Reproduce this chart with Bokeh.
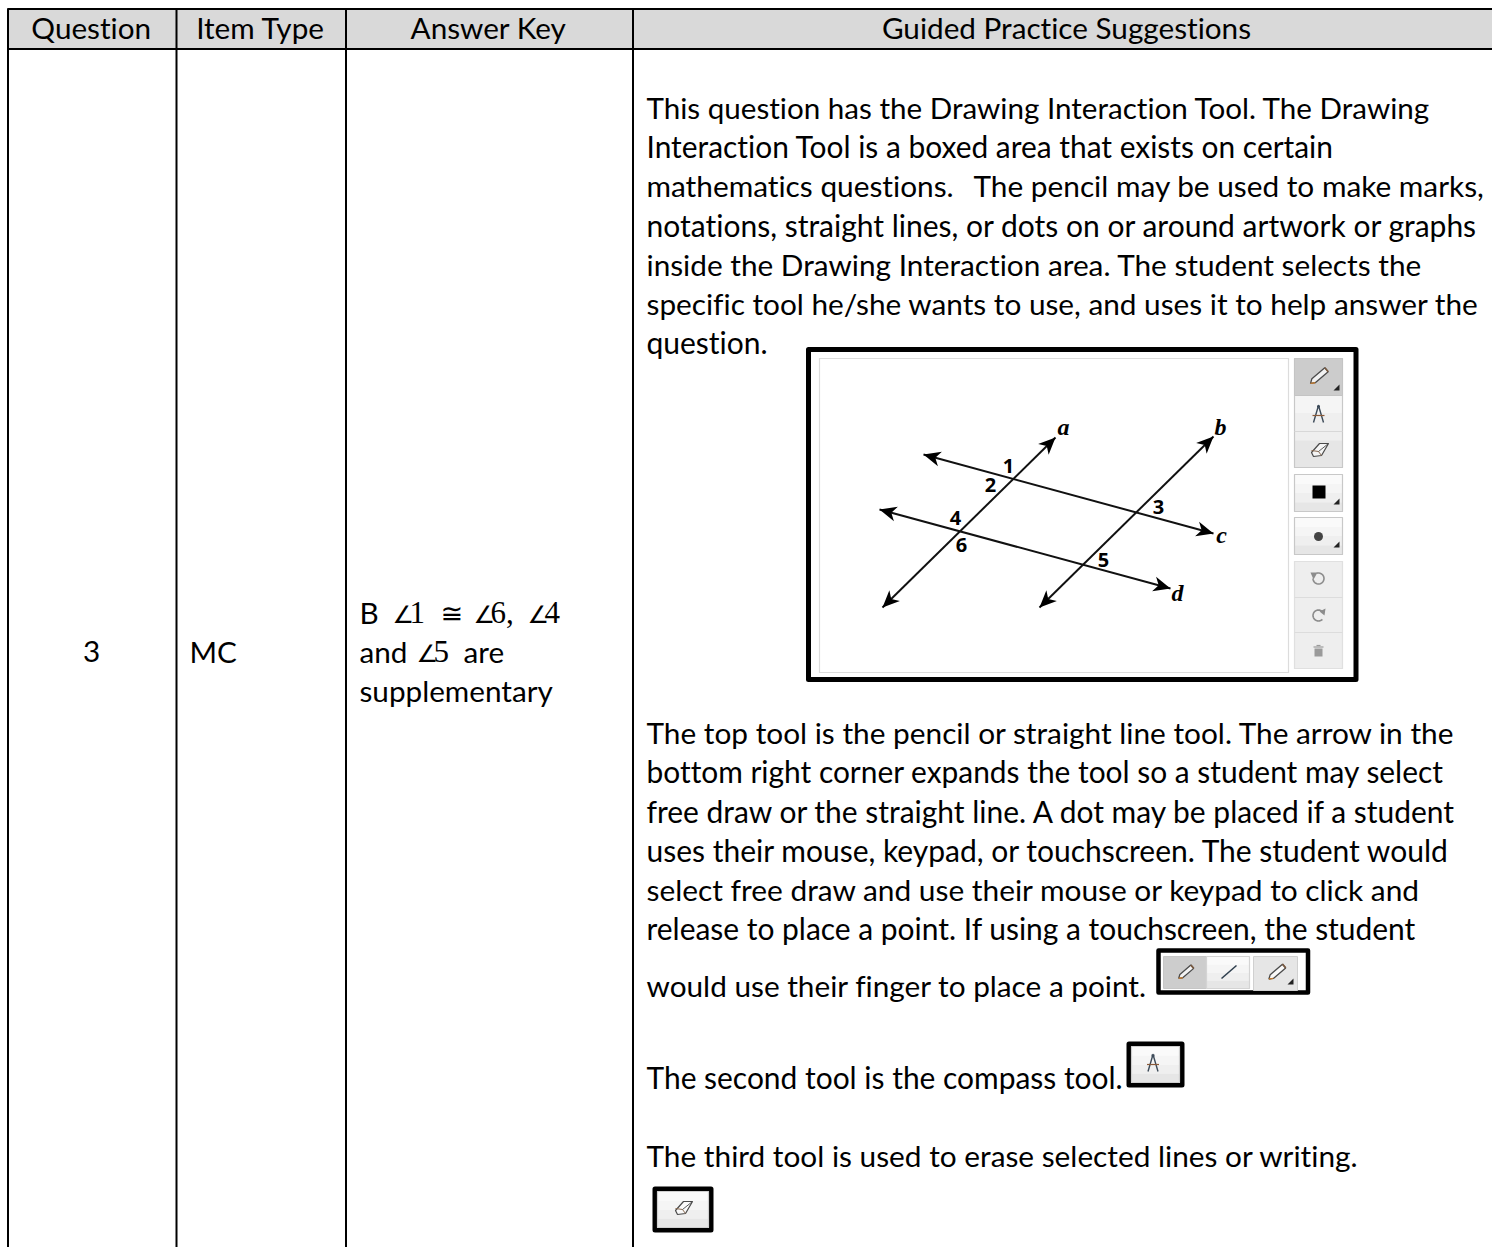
from bokeh.plotting import figure
from bokeh.models import Range1d
from bokeh.core.properties import value
from bokeh.embed import file_html
from bokeh.resources import INLINE
import math

# ---- content -------------------------------------------------------------
HEADERS = ["Question", "Item Type", "Answer Key", "Guided Practice Suggestions"]
QUESTION = "3"
ITEM_TYPE = "MC"
ANSWER_SEGMENTS = [
    ["B", "∠1", "≅", "∠6,", "∠4"],
    ["and", "∠5", "are"],
    ["supplementary"],
]
PARAGRAPH_1 = [
    "This question has the Drawing Interaction Tool. The Drawing",
    "Interaction Tool is a boxed area that exists on certain",
    "mathematics questions.  The pencil may be used to make marks,",
    "notations, straight lines, or dots on or around artwork or graphs",
    "inside the Drawing Interaction area. The student selects the",
    "specific tool he/she wants to use, and uses it to help answer the",
    "question.",
]
PARAGRAPH_2 = [
    "The top tool is the pencil or straight line tool. The arrow in the",
    "bottom right corner expands the tool so a student may select",
    "free draw or the straight line. A dot may be placed if a student",
    "uses their mouse, keypad, or touchscreen. The student would",
    "select free draw and use their mouse or keypad to click and",
    "release to place a point. If using a touchscreen, the student",
    "would use their finger to place a point.",
]
LINE_SECOND = "The second tool is the compass tool."
LINE_THIRD = "The third tool is used to erase selected lines or writing."
ANGLE_LABELS = ["1", "2", "3", "4", "5", "6"]
LINE_LABELS = ["a", "b", "c", "d"]

# ---- layout --------------------------------------------------------------
W, H = 1492, 1247
FONT = "Lato"
FS = 29.7
GRID = "#000000"
p = figure(width=W, height=H, x_range=Range1d(0, W), y_range=Range1d(H, 0),
           output_backend="svg", toolbar_location=None, min_border=0,
           x_axis_location=None, y_axis_location=None, margin=0)
p.grid.visible = False
p.outline_line_color = None
p.background_fill_color = "#ffffff"


def txt(x, y, s, font=FONT, size=FS, align="left", style="normal", color="#000000"):
    p.text([x], [y - 0.37 * size], text=[s], text_font=value(font), text_font_size=f"{size}px",
           text_align=align, text_baseline="alphabetic", text_font_style=style,
           text_color=color)


def box(l, r, t, b, fill="#ffffff", line=None, lw=1, join="miter"):
    p.quad(left=[l], right=[r], top=[t], bottom=[b], fill_color=fill,
           line_color=line, line_width=lw, line_join=join)


def seg(xs, ys, color="#000000", lw=1.0, cap="butt"):
    p.line(xs, ys, line_color=color, line_width=lw, line_cap=cap, line_join="round")


def poly(xs, ys, color, line=None, lw=1.0):
    p.patch(xs, ys, fill_color=color, line_color=line, line_width=lw)


# ---- table ---------------------------------------------------------------
box(8, W, 9, 48, fill="#d9d9d9")
for y in (8.5, 48.5):
    seg([7, W], [y, y], GRID, 2)
for x in (7.5, 176, 345.5, 632.5):
    seg([x, x], [8, H], GRID, 2)

for cx, s in zip((91, 260, 488, 1066.5), HEADERS):
    txt(cx, 38, s, align="center")

txt(91, 662, QUESTION, align="center")
txt(189, 662, ITEM_TYPE)

serif = "Liberation Serif"
math_x = [[359, 392, 440, 473, 527], [359, 416, 463], [359]]
math_y = [623, 662, 701]
for row, xs, y in zip(ANSWER_SEGMENTS, math_x, math_y):
    for s, x in zip(row, xs):
        if s[0] in "∠≅":
            if s[0] == "≅":
                txt(x, y, s, font="DejaVu Sans", size=27)
            else:
                txt(x, y, s[0], font="DejaVu Sans", size=24)
                txt(x + 17, y, s[1:], font=serif, size=31)
        else:
            txt(x, y, s)

# each line is fitted to the width it has in the reference
p1_y = (118, 157, 196.5, 235.5, 275, 314, 353)
p1_size = (29.6, 29.9, 29.8, 30.0, 29.75, 29.75, 30.0)
for s, y, fs in zip(PARAGRAPH_1, p1_y, p1_size):
    if "  " in s:
        head, tail = s.split("  ")
        txt(646, y, head, size=fs)
        txt(973, y, tail, size=fs)
    else:
        txt(646, y, s, size=fs)
p2_y = (743, 782, 821.5, 861, 900, 939, 996)
p2_size = (29.8, 29.9, 29.96, 30.0, 29.85, 29.95, 29.75)
for s, y, fs in zip(PARAGRAPH_2, p2_y, p2_size):
    txt(646, y, s, size=fs)
txt(646, 1088, LINE_SECOND, size=29.95)
txt(646, 1166, LINE_THIRD, size=29.8)


# ---- icons ---------------------------------------------------------------
def pencil(x, y, k=1.0, outline="#4a4a4a"):
    ux, uy, nx, ny = 0.76, -0.65, 0.65, 0.76
    L, w = 10.5 * k, 2.6 * k
    tipx, tipy = x - L * ux, y - L * uy
    a = (x - (L - 4 * k) * ux + w * nx, y - (L - 4 * k) * uy + w * ny)
    b = (x - (L - 4 * k) * ux - w * nx, y - (L - 4 * k) * uy - w * ny)
    c = (x + L * ux - w * nx, y + L * uy - w * ny)
    d = (x + L * ux + w * nx, y + L * uy + w * ny)
    xs = [tipx, b[0], c[0], d[0], a[0], tipx]
    ys = [tipy, b[1], c[1], d[1], a[1], tipy]
    p.patch(xs, ys, fill_color="#ffffff", fill_alpha=0.75, line_color=outline, line_width=1.3)
    seg([tipx, a[0]], [tipy, a[1]], "#c07a30", 1.4)
    seg([c[0], d[0]], [c[1], d[1]], "#7a5a40", 1.6)


def corner(x, y):
    poly([x + 4, x + 4, x - 2], [y - 4, y + 2, y + 2], "#222222")


def compass(x, y):
    seg([x - 5, x, x + 5], [y + 9, y - 8, y + 9], "#3c4a58", 1.4)
    seg([x - 6, x + 6], [y + 2, y + 2], "#8a5a3a", 1.2)
    seg([x - 1.5, x + 1.5], [y - 7, y - 7], "#3c4a58", 2)


def eraser(x, y):
    xs = [x - 7, x + 1, x + 10, x + 3, x - 5, x - 7]
    ys = [y + 3, y - 6, y - 6, y + 6, y + 7, y + 3]
    p.patch(xs, ys, fill_color="#ffffff", fill_alpha=0.6, line_color="#4a4a4a", line_width=1.2)
    seg([x - 7, x, x + 3], [y + 1, y + 2, y + 6], "#8a6a50", 1.0)
    seg([x, x + 10], [y + 2, y - 6], "#4a4a4a", 0.9)


def ring(x, y, r, a0, a1, color="#8c8c8c", lw=1.6, n=24):
    angles = [math.radians(a0 + (a1 - a0) * i / n) for i in range(n + 1)]
    seg([x + r * math.cos(t) for t in angles], [y + r * math.sin(t) for t in angles], color, lw)


def button(l, r, t, b, top="#fafafa", bottom="#e6e6e6", edge="#cfcfcf"):
    h = (b - t) / 4
    for i, c in enumerate((top, "#f5f5f5", "#efefef", bottom)):
        box(l, r, t + i * h, t + (i + 1) * h, fill=c)
    p.quad(left=[l], right=[r], top=[t], bottom=[b], fill_color=None,
           line_color=edge, line_width=1.2, line_join="round")


def arrow_head(tip, tail, L=17.0, Wd=7.5):
    ux, uy = tail[0] - tip[0], tail[1] - tip[1]
    n = math.hypot(ux, uy)
    ux, uy = ux / n, uy / n
    nx, ny = -uy, ux
    xs = [tip[0], tip[0] + L * ux + Wd * nx, tip[0] + .72 * L * ux, tip[0] + L * ux - Wd * nx]
    ys = [tip[1], tip[1] + L * uy + Wd * ny, tip[1] + .72 * L * uy, tip[1] + L * uy - Wd * ny]
    poly(xs, ys, "#000000")


# ---- large tool screenshot ----------------------------------------------
p.quad(left=[808], right=[1355.5], top=[349], bottom=[679], fill_color="#ffffff",
       line_color="#000000", line_width=5, line_join="round")
box(819, 1288, 358, 672, fill="#ffffff", line="#dcdcdc", lw=1.2)

rays = [((923, 454), (1213, 533)), ((879, 509), (1170, 588)),
        ((1055, 437), (882, 607)), ((1213, 436), (1039, 607))]
for a, b in rays:
    seg([a[0], b[0]], [a[1], b[1]], "#111111", 2)
    arrow_head(a, b)
    arrow_head(b, a)

for s, (x, y) in zip(ANGLE_LABELS, [(1008, 473), (990, 492), (1158, 514), (955, 525), (1103, 567), (961, 552)]):
    txt(x, y, s, font="Open Sans", size=20, align="center", style="bold")
for s, (x, y) in zip(LINE_LABELS, [(1063, 435), (1220, 435), (1221, 543), (1177, 601)]):
    txt(x, y, s, font=serif, size=24, align="center", style="bold italic")

button(1294, 1342, 358, 467, edge="#c8c8c8")
box(1294, 1342, 358, 395, fill="#cccccc", line="#c4c4c4")
seg([1294, 1342], [431, 431], "#d8d8d8", 1)
pencil(1318, 376)
corner(1335, 388)
compass(1318, 413)
eraser(1318, 449)

button(1294, 1342, 474, 511, edge="#c8c8c8")
box(1312, 1325, 485, 498, fill="#000000")
corner(1335, 502)
button(1294, 1342, 517, 554, edge="#c8c8c8")
p.scatter([1318], [536], size=9, marker="circle", fill_color="#444444", line_color=None)
corner(1335, 545)

box(1294, 1342, 561, 668, fill="#eeeeee", line="#e0e0e0", lw=1.2)
seg([1294, 1342], [597, 597], "#dcdcdc", 1)
seg([1294, 1342], [632, 632], "#dcdcdc", 1)
ring(1318, 578, 5.5, -110, 180)
poly([1310, 1317, 1313], [572, 572, 579], "#8c8c8c")
ring(1318, 615, 5.5, -45, -315)
poly([1325, 1319, 1324], [608, 611, 615], "#8c8c8c")
box(1314, 1322, 648, 656, fill="#9a9a9a")
seg([1313, 1323], [646.5, 646.5], "#9a9a9a", 1.2)
seg([1316, 1320], [645, 645], "#9a9a9a", 1.2)

# ---- small tool screenshots ----------------------------------------------
p.quad(left=[1158], right=[1307.5], top=[950], bottom=[992], fill_color="#ffffff",
       line_color="#000000", line_width=4.5, line_join="round")
box(1163, 1206, 956, 988, fill="#cdcdcd", line="#c6c6c6")
button(1206, 1249, 956, 988, edge="#d4d4d4")
box(1253, 1297, 956, 990, fill="#e6e6e6", line="#d0d0d0")
pencil(1185, 972, .85)
seg([1221, 1236], [978, 965], "#30404f", 1.6)
pencil(1276, 972, .95)
corner(1289, 982)

p.quad(left=[1128.5], right=[1181.5], top=[1043.5], bottom=[1084.5], fill_color="#ffffff",
       line_color="#000000", line_width=5, line_join="round")
button(1131, 1179, 1046, 1082)
compass(1152.5, 1062)

p.quad(left=[654.5], right=[710.5], top=[1188.5], bottom=[1229.5], fill_color="#ffffff",
       line_color="#000000", line_width=5, line_join="round")
button(657, 708, 1191, 1227)
eraser(682, 1207)

html = file_html(p, INLINE)
html = html.replace("</head>", "<style>body{font-variant-ligatures:none}</style></head>")
open("out.html", "w").write(html)
